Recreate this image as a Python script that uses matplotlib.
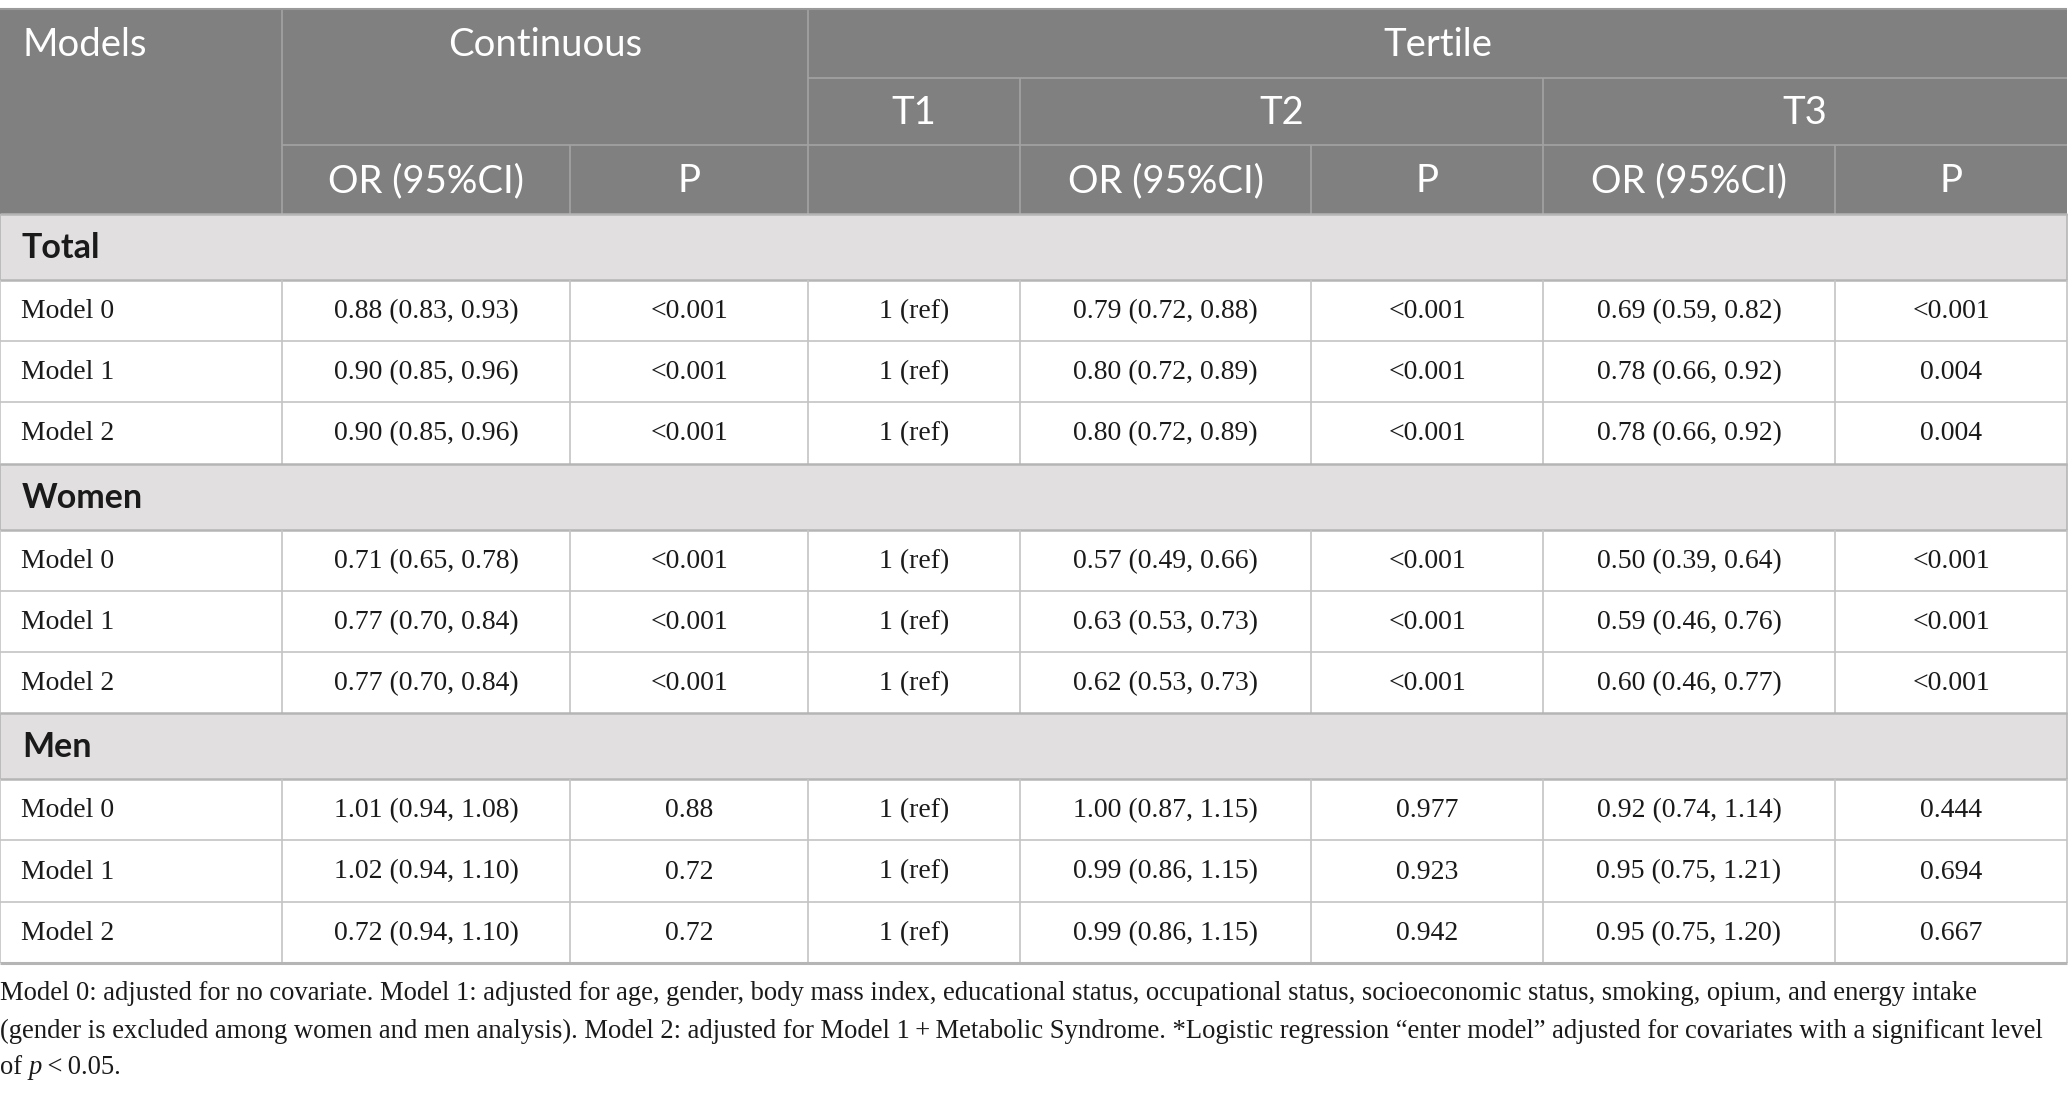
import matplotlib
matplotlib.use("Agg")
import matplotlib.pyplot as plt
from matplotlib.patches import Rectangle

# ---------------- data ----------------
header_top = ["Models", "Continuous", "Tertile"]
tertile_labels = ["T1", "T2", "T3"]
sub_headers = ["OR (95%CI)", "P", "", "OR (95%CI)", "P", "OR (95%CI)", "P"]

groups = ["Total", "Women", "Men"]
model_names = ["Model 0", "Model 1", "Model 2"]

cont_or = [
    ["0.88 (0.83, 0.93)", "0.90 (0.85, 0.96)", "0.90 (0.85, 0.96)"],
    ["0.71 (0.65, 0.78)", "0.77 (0.70, 0.84)", "0.77 (0.70, 0.84)"],
    ["1.01 (0.94, 1.08)", "1.02 (0.94, 1.10)", "0.72 (0.94, 1.10)"],
]
cont_p = [
    ["<0.001", "<0.001", "<0.001"],
    ["<0.001", "<0.001", "<0.001"],
    ["0.88", "0.72", "0.72"],
]
t1_ref = ["1 (ref)", "1 (ref)", "1 (ref)"]
t2_or = [
    ["0.79 (0.72, 0.88)", "0.80 (0.72, 0.89)", "0.80 (0.72, 0.89)"],
    ["0.57 (0.49, 0.66)", "0.63 (0.53, 0.73)", "0.62 (0.53, 0.73)"],
    ["1.00 (0.87, 1.15)", "0.99 (0.86, 1.15)", "0.99 (0.86, 1.15)"],
]
t2_p = [
    ["<0.001", "<0.001", "<0.001"],
    ["<0.001", "<0.001", "<0.001"],
    ["0.977", "0.923", "0.942"],
]
t3_or = [
    ["0.69 (0.59, 0.82)", "0.78 (0.66, 0.92)", "0.78 (0.66, 0.92)"],
    ["0.50 (0.39, 0.64)", "0.59 (0.46, 0.76)", "0.60 (0.46, 0.77)"],
    ["0.92 (0.74, 1.14)", "0.95 (0.75, 1.21)", "0.95 (0.75, 1.20)"],
]
t3_p = [
    ["<0.001", "0.004", "0.004"],
    ["<0.001", "<0.001", "<0.001"],
    ["0.444", "0.694", "0.667"],
]

footnote_lines = [
    "Model 0: adjusted for no covariate. Model 1: adjusted for age, gender, body mass index, educational status, occupational status, socioeconomic status, smoking, opium, and energy intake",
    "(gender is excluded among women and men analysis). Model 2: adjusted for Model 1\u2009+\u2009Metabolic Syndrome. *Logistic regression \u201center model\u201d adjusted for covariates with a significant level",
]
footnote_last = ["of ", "p", "\u2009<\u20090.05."]

# ---------------- layout ----------------
W, H = 2068, 1093
fig = plt.figure(figsize=(W / 100, H / 100), dpi=100)
ax = fig.add_axes([0, 0, 1, 1])
ax.set_xlim(0, W)
ax.set_ylim(H, 0)
ax.axis("off")

cols = [0, 282, 570, 808, 1020, 1311, 1543, 1835, 2067]
hrows = [9, 78, 145, 214]
row_h = 61.2
grp_h = 66.0

HEAD_BG = "#7f807f"
HEAD_LINE = "#a3a3a3"
GRP_BG = "#e1dfe0"
LINE = "#c4c4c4"
SEC_LINE = "#b5b5b5"
TXT = "#1a1a1a"

sans = "Lato"
serif = "Liberation Serif"
hfs = 27.5
hweight = "normal"
dfs = 20.0
gfs = 24.5
ffs = 19.2

# header background
ax.add_patch(Rectangle((cols[0], hrows[0]), cols[-1] - cols[0], hrows[3] - hrows[0],
                       facecolor=HEAD_BG, edgecolor="none", zorder=1))


def hline(y, x0, x1, c, lw=1.2):
    ax.plot([x0, x1], [y, y], color=c, lw=lw, solid_capstyle="butt", zorder=3)


def vline(x, y0, y1, c, lw=1.2):
    ax.plot([x, x], [y0, y1], color=c, lw=lw, solid_capstyle="butt", zorder=3)


# header lines
hline(hrows[1], cols[3], cols[8], HEAD_LINE)
hline(hrows[2], cols[1], cols[8], HEAD_LINE)
vline(cols[1], hrows[0], hrows[3], HEAD_LINE)
vline(cols[3], hrows[0], hrows[3], HEAD_LINE)
vline(cols[2], hrows[2], hrows[3], HEAD_LINE)
vline(cols[4], hrows[1], hrows[3], HEAD_LINE)
vline(cols[6], hrows[1], hrows[3], HEAD_LINE)
vline(cols[5], hrows[2], hrows[3], HEAD_LINE)
vline(cols[7], hrows[2], hrows[3], HEAD_LINE)
hline(hrows[0], cols[0], cols[8], "#9a9a9a", 1.5)


def cy(r0, r1):
    return (r0 + r1) / 2


def htext(x, y, s, ha):
    ax.text(x, y, s, color="white", fontsize=hfs, family=sans, fontweight=hweight,
            va="center", ha=ha, zorder=4)


# header texts
y1 = cy(hrows[0], hrows[1]) + 2
htext(22, y1, header_top[0], "left")
htext((cols[1] + cols[3]) / 2, y1, header_top[1], "center")
htext((cols[3] + cols[8]) / 2, y1, header_top[2], "center")
y2 = cy(hrows[1], hrows[2]) + 2
tspans = [(cols[3], cols[4]), (cols[4], cols[6]), (cols[6], cols[8])]
for lab, (a, b) in zip(tertile_labels, tspans):
    htext((a + b) / 2, y2, lab, "center")
y3 = cy(hrows[2], hrows[3]) + 2
for i, lab in enumerate(sub_headers):
    htext((cols[i + 1] + cols[i + 2]) / 2, y3, lab, "center")

# body
y = hrows[3]
for g, gname in enumerate(groups):
    ax.add_patch(Rectangle((cols[0], y), cols[-1] - cols[0], grp_h, facecolor=GRP_BG, edgecolor="none", zorder=1))
    vline(cols[0], y, y + grp_h, SEC_LINE)
    vline(cols[-1], y, y + grp_h, SEC_LINE)
    ax.text(22, y + grp_h / 2 + 1, gname, color=TXT, fontsize=gfs, family=sans, fontweight="bold",
            va="center", ha="left", zorder=4)
    hline(y, cols[0], cols[-1], SEC_LINE, 1.8)
    y += grp_h
    hline(y, cols[0], cols[-1], SEC_LINE, 1.8)
    for m in range(3):
        vals = [cont_or[g][m], cont_p[g][m], t1_ref[m], t2_or[g][m], t2_p[g][m], t3_or[g][m], t3_p[g][m]]
        yc = y + row_h / 2 + 1
        ax.text(21, yc, model_names[m], color=TXT, fontsize=dfs, family=serif, va="center", ha="left", zorder=4)
        for i, v in enumerate(vals):
            ax.text((cols[i + 1] + cols[i + 2]) / 2, yc, v, color=TXT, fontsize=dfs, family=serif,
                    va="center", ha="center", zorder=4)
        for x in cols:
            vline(x, y, y + row_h, LINE)
        y += row_h
        if m < 2:
            hline(y, cols[0], cols[-1], LINE)
hline(y, cols[0], cols[-1], SEC_LINE, 2.2)

# footnote
fy = [993, 1031, 1068]
for i, line in enumerate(footnote_lines):
    ax.text(0, fy[i], line, color=TXT, fontsize=ffs, family=serif, va="center", ha="left")

fig.canvas.draw()
renderer = fig.canvas.get_renderer()
x = 0
inv = ax.transData.inverted()
for j, part in enumerate(footnote_last):
    t = ax.text(x, fy[2], part, color=TXT, fontsize=ffs, family=serif, va="center", ha="left",
                style="italic" if j == 1 else "normal")
    bb = t.get_window_extent(renderer=renderer)
    x0 = inv.transform((bb.x0, bb.y0))[0]
    x1 = inv.transform((bb.x1, bb.y0))[0]
    x = x + (x1 - x0)

fig.savefig("out.png", dpi=100)
